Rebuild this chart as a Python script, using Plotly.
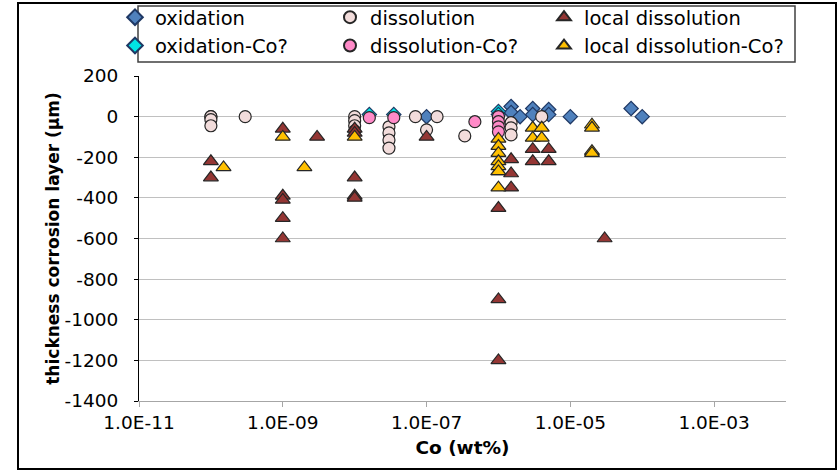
import plotly.graph_objects as go

# Co content (wt%) and corrosion-layer thickness (µm) for each observation type
ox_x = [1e-7, 1.5e-6, 1.5e-6, 2e-6, 3e-6, 3e-6, 5e-6, 5e-6, 1e-5, 7e-5, 1e-4]
ox_y = [0, 50, 20, 0, 40, 10, 35, 10, 0, 40, 0]

dis_x = [1e-10, 1e-10, 1e-10, 1e-10, 3e-10,
         1e-8, 1e-8, 1e-8, 1e-8,
         3e-8, 3e-8, 3e-8, 3e-8,
         7e-8, 1e-7, 1.4e-7, 3.4e-7,
         1.5e-6, 1.5e-6, 1.5e-6, 4e-6]
dis_y = [0, 0, -15, -45, 0,
         0, -20, -45, -70,
         -50, -80, -115, -155,
         0, -65, 0, -95,
         -30, -55, -90, 0]

loc_x = [1e-10, 1e-10,
         1e-9, 1e-9, 1e-9, 1e-9, 1e-9,
         3e-9,
         1e-8, 1e-8, 1e-8, 1e-8, 1e-8,
         1e-7,
         1e-6, 1e-6, 1e-6, 1e-6,
         1.5e-6, 1.5e-6, 1.5e-6,
         3e-6, 3e-6, 5e-6, 5e-6,
         3e-5]
loc_y = [-220, -300,
         -60, -390, -410, -500, -600,
         -100,
         -60, -80, -300, -390, -400,
         -100,
         -270, -450, -900, -1200,
         -210, -280, -350,
         -160, -220, -160, -220,
         -600]

oxco_x = [1.6e-8, 3.5e-8, 1e-6, 1e-6]
oxco_y = [10, 10, 25, 10]

disco_x = [1.6e-8, 3.5e-8, 4.7e-7, 1e-6, 1e-6, 1e-6, 1e-6]
disco_y = [-5, -5, -25, 0, -25, -50, -75]

locco_x = [1.5e-10, 1e-9, 2e-9, 1e-8,
           1e-6, 1e-6, 1e-6, 1e-6, 1e-6, 1e-6, 1e-6,
           3e-6, 3e-6, 4e-6, 4e-6,
           2e-5, 2e-5, 2e-5, 2e-5]
locco_y = [-250, -100, -250, -100,
           -110, -145, -180, -220, -245, -270, -350,
           -55, -105, -55, -105,
           -40, -55, -170, -180]

x_tickvals = [1e-11, 1e-9, 1e-7, 1e-5, 1e-3]
x_ticktext = ["1.0E-11", "1.0E-09", "1.0E-07", "1.0E-05", "1.0E-03"]
y_tickvals = [200, 0, -200, -400, -600, -800, -1000, -1200, -1400]
y_ticktext = ["200", "0", "-200", "-400", "-600", "-800", "-1000", "-1200", "-1400"]

FONT = "DejaVu Sans"
W, H = 837, 472
L, R, T, B = 139, 51, 76, 71
PW, PH = W - L - R, H - T - B


def px_to_paper(px, py):
    return (px - L) / PW, (H - B - py) / PH


# name, x, y, symbol, fill, edge, size, legend column
series = [
    ("oxidation", ox_x, ox_y, "diamond", "#4F81BD", "#1F3864", 11, "legend"),
    ("dissolution", dis_x, dis_y, "circle", "#F2DCDB", "#262626", 12, "legend2"),
    ("local dissolution", loc_x, loc_y, "triangle-up", "#943634", "#262626", 13, "legend3"),
    ("oxidation-Co?", oxco_x, oxco_y, "diamond", "#00E5E5", "#1F3864", 11, "legend"),
    ("dissolution-Co?", disco_x, disco_y, "circle", "#FF8AC8", "#262626", 12, "legend2"),
    ("local dissolution-Co?", locco_x, locco_y, "triangle-up", "#FFC000", "#262626", 13, "legend3"),
]

fig = go.Figure()
for name, xs, ys, sym, fill, edge, size, leg in series:
    fig.add_trace(go.Scatter(
        x=xs, y=ys, name=name, mode="markers", legend=leg,
        marker=dict(symbol=sym, color=fill, size=size,
                    line=dict(color=edge, width=1.2)),
    ))

# outer frame and legend box
fx0, fy0 = px_to_paper(18, 469)
fx1, fy1 = px_to_paper(836, 3)
lx0, ly0 = px_to_paper(138, 62)
lx1, ly1 = px_to_paper(795, 6)
shapes = [
    dict(type="rect", xref="paper", yref="paper", x0=fx0, y0=fy0, x1=fx1, y1=fy1,
         line=dict(color="black", width=2), layer="below"),
    dict(type="rect", xref="paper", yref="paper", x0=lx0, y0=ly0, x1=lx1, y1=ly1,
         line=dict(color="#404040", width=1.5), fillcolor="white", layer="below"),
]


def legend_column(px_left):
    lx, ly = px_to_paper(px_left, -2)
    return dict(orientation="v", x=lx, y=ly, xanchor="left", yanchor="top",
                xref="paper", yref="paper",
                font=dict(family=FONT, size=19.5, color="black"),
                bgcolor="rgba(0,0,0,0)", borderwidth=0,
                itemsizing="constant", traceorder="normal")


fig.update_layout(
    width=W, height=H,
    margin=dict(l=L, r=R, t=T, b=B, autoexpand=False),
    paper_bgcolor="white", plot_bgcolor="white",
    font=dict(family=FONT, color="black"),
    showlegend=True,
    legend=legend_column(115),
    legend2=legend_column(330),
    legend3=legend_column(544),
    shapes=shapes,
    xaxis=dict(type="log", range=[-11, -2],
               tickvals=x_tickvals, ticktext=x_ticktext,
               showgrid=False, zeroline=False,
               showline=True, linecolor="#A6A6A6", linewidth=1,
               ticks="outside", ticklen=5, tickcolor="#A6A6A6",
               tickfont=dict(family=FONT, size=18.5),
               title=dict(text="<b>Co (wt%)</b>", font=dict(family=FONT, size=18.5),
                          standoff=8)),
    yaxis=dict(range=[-1400, 200],
               tickvals=y_tickvals, ticktext=y_ticktext,
               showgrid=True, gridcolor="#C0C0C0", gridwidth=1,
               zeroline=False, showline=True, linecolor="black", linewidth=1,
               ticks="outside", ticklen=4, tickcolor="black",
               tickfont=dict(family=FONT, size=18.5), ticklabelstandoff=12,
               title=dict(text="<b>thickness corrosion layer (µm)</b>",
                          font=dict(family=FONT, size=17), standoff=0)),
)

fig.write_html("out.html")
